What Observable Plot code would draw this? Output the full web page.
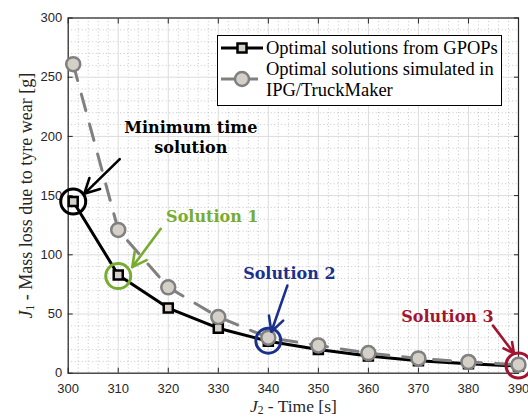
<!DOCTYPE html>
<html><head><meta charset="utf-8">
<script src="https://cdn.jsdelivr.net/npm/d3@7"></script>
<script src="https://cdn.jsdelivr.net/npm/@observablehq/plot@0.6"></script>
<style>body{margin:0;background:#fff}</style>
</head><body><div id="chart"></div>
<script>
// ---- data ----
const timeGPOPs = [301, 310, 320, 330, 340, 350, 360, 370, 380, 390];
const wearGPOPs = [145, 83, 55, 38, 27, 20, 14.5, 10.5, 8, 6];
const timeIPG = [301, 310, 320, 330, 340, 350, 360, 370, 380, 390];
const wearIPG = [261, 121, 72.5, 47.5, 30, 23.5, 17, 12.5, 9.5, 7.2];

const xTicks = [300, 310, 320, 330, 340, 350, 360, 370, 380, 390];
const yTicks = [0, 50, 100, 150, 200, 250, 300];
const xMinor = [302,304,306,308,312,314,316,318,322,324,326,328,332,334,336,338,342,344,346,348,352,354,356,358,362,364,366,368,372,374,376,378,382,384,386,388];
const yMinor = [10,20,30,40,60,70,80,90,110,120,130,140,160,170,180,190,210,220,230,240,260,270,280,290];

const highlightTime = [301, 310, 340, 390];
const highlightWear = [145, 82, 27.5, 6.5];
const highlightColor = ["#000000", "#77ac30", "#1b2f8f", "#a2142f"];

const noteText = ["Minimum time\nsolution", "Solution 1", "Solution 2", "Solution 3"];
const noteTime = [324.5, 328.8, 344.2, 375.8];
const noteWear = [199.5, 133.4, 85.3, 48.6];
const arrowFromTime = [310.3, 318.5, 343.8, 384.9];
const arrowFromWear = [180.8, 122, 74, 40.2];
const arrowToTime = [303.2, 312.8, 340.6, 389.1];
const arrowToWear = [151.5, 89.6, 35, 16.7];

const legendLabels = ["Optimal solutions from GPOPs", "Optimal solutions simulated in", "IPG/TruckMaker"];
const xLabel = "J2 - Time [s]";
const yLabel = "J1 - Mass loss due to tyre wear [g]";

// ---- tables ----
const gpops = timeGPOPs.map((t, i) => ({time: t, wear: wearGPOPs[i]}));
const ipg = timeIPG.map((t, i) => ({time: t, wear: wearIPG[i]}));
const highlights = highlightTime.map((t, i) => ({time: t, wear: highlightWear[i], color: highlightColor[i]}));
const notes = noteText.map((s, i) => ({text: s, time: noteTime[i], wear: noteWear[i], color: highlightColor[i],
  x1: arrowFromTime[i], y1: arrowFromWear[i], x2: arrowToTime[i], y2: arrowToWear[i]}));

const serif = "Liberation Serif";
const markerFill = "#d4d0c8";

const plot = Plot.plot({
  width: 528, height: 417,
  marginLeft: 67.7, marginRight: 10, marginTop: 17.5, marginBottom: 44.3,
  x: {domain: [300, 390]},
  y: {domain: [0, 300]},
  style: {fontFamily: "Liberation Sans", fontSize: "12.5px", color: "#262626", background: "#fff"},
  marks: [
    Plot.ruleX(xMinor, {stroke: "#b8b8b8", strokeDasharray: "1,2.5", strokeWidth: 0.8}),
    Plot.ruleY(yMinor, {stroke: "#b8b8b8", strokeDasharray: "1,2.5", strokeWidth: 0.8}),
    Plot.gridX(xTicks, {stroke: "#dcdcdc", strokeOpacity: 1, strokeWidth: 1}),
    Plot.gridY(yTicks, {stroke: "#dcdcdc", strokeOpacity: 1, strokeWidth: 1}),
    Plot.axisX(xTicks, {anchor: "bottom", tickSize: -5, tickPadding: 15.5, label: null, tickFormat: d => String(d), fill: "#262626", fontSize: 13}),
    Plot.axisX(xTicks, {anchor: "top", tickSize: -5, label: null, tickFormat: () => ""}),
    Plot.axisY(yTicks, {anchor: "left", tickSize: -5, tickPadding: 11, label: null, tickFormat: d => String(d), fill: "#262626", fontSize: 13}),
    Plot.axisY(yTicks, {anchor: "right", tickSize: -5, label: null, tickFormat: () => ""}),
    Plot.frame({stroke: "#262626", strokeWidth: 1.2}),
    // GPOPs
    Plot.line(gpops, {x: "time", y: "wear", stroke: "#000", strokeWidth: 3}),
    Plot.dot(gpops, {x: "time", y: "wear", symbol: "square", r: 5.1, fill: markerFill, stroke: "#000", strokeWidth: 2.5}),
    // IPG
    Plot.line(ipg, {x: "time", y: "wear", stroke: "#808080", strokeWidth: 3, strokeDasharray: "17,14"}),
    Plot.dot(ipg, {x: "time", y: "wear", r: 7, fill: markerFill, stroke: "#808080", strokeWidth: 2.5}),
    // highlights
    Plot.dot(highlights, {x: "time", y: "wear", r: 12.5, fill: "none", stroke: "color", strokeWidth: 3}),
    Plot.arrow(notes, {x1: "x1", y1: "y1", x2: "x2", y2: "y2", stroke: "color", strokeWidth: 2.6, headLength: 11, headAngle: 55}),
    Plot.text(notes, {x: "time", y: "wear", text: "text", fill: "color", fontFamily: "DejaVu Serif", fontWeight: "bold", fontSize: 16, lineHeight: 1.25}),
    // axis labels
    Plot.text([xLabel], {text: d => d, frameAnchor: "bottom", textAnchor: "middle", lineAnchor: "middle", dy: 33, fontFamily: serif, fontSize: 17.5, fill: "#262626"}),
    Plot.text([yLabel], {text: d => d, frameAnchor: "left", textAnchor: "middle", lineAnchor: "middle", rotate: -90, dx: -42, fontFamily: serif, fontSize: 18, fill: "#262626"})
  ]
});

// subscripts / italics in axis labels
d3.select(plot).selectAll("text").each(function () {
  const t = this.textContent;
  if (t === xLabel || t === yLabel) {
    const s = d3.select(this);
    s.text(null);
    s.append("tspan").attr("font-style", "italic").text(t[0]);
    s.append("tspan").attr("font-size", 11.5).attr("dy", 2.5).text(t[1]);
    s.append("tspan").attr("dy", -2.5).text(t.slice(2));
  }
});

// legend
const svg = d3.select(plot);
const lg = svg.append("g").attr("font-family", serif).attr("font-size", 18.5).attr("fill", "#000").attr("text-anchor", "start");
lg.append("rect").attr("x", 217.5).attr("y", 35.5).attr("width", 284).attr("height", 70)
  .attr("fill", "#fff").attr("stroke", "#000").attr("stroke-width", 1);
lg.append("line").attr("x1", 221).attr("x2", 263).attr("y1", 48).attr("y2", 48)
  .attr("stroke", "#000").attr("stroke-width", 3);
lg.append("rect").attr("x", 237.5).attr("y", 43.5).attr("width", 9).attr("height", 9)
  .attr("fill", markerFill).attr("stroke", "#000").attr("stroke-width", 2.5);
lg.append("line").attr("x1", 221).attr("x2", 263).attr("y1", 79).attr("y2", 79)
  .attr("stroke", "#808080").attr("stroke-width", 3).attr("stroke-dasharray", "17,3,17,5");
lg.append("circle").attr("cx", 242).attr("cy", 79).attr("r", 7)
  .attr("fill", markerFill).attr("stroke", "#808080").attr("stroke-width", 2.5);
const ly = [48, 69, 90];
legendLabels.forEach((s, i) => {
  lg.append("text").attr("x", 266).attr("y", ly[i]).attr("dy", "0.32em").text(s);
});

document.getElementById("chart").appendChild(plot);
</script>
</body></html>
